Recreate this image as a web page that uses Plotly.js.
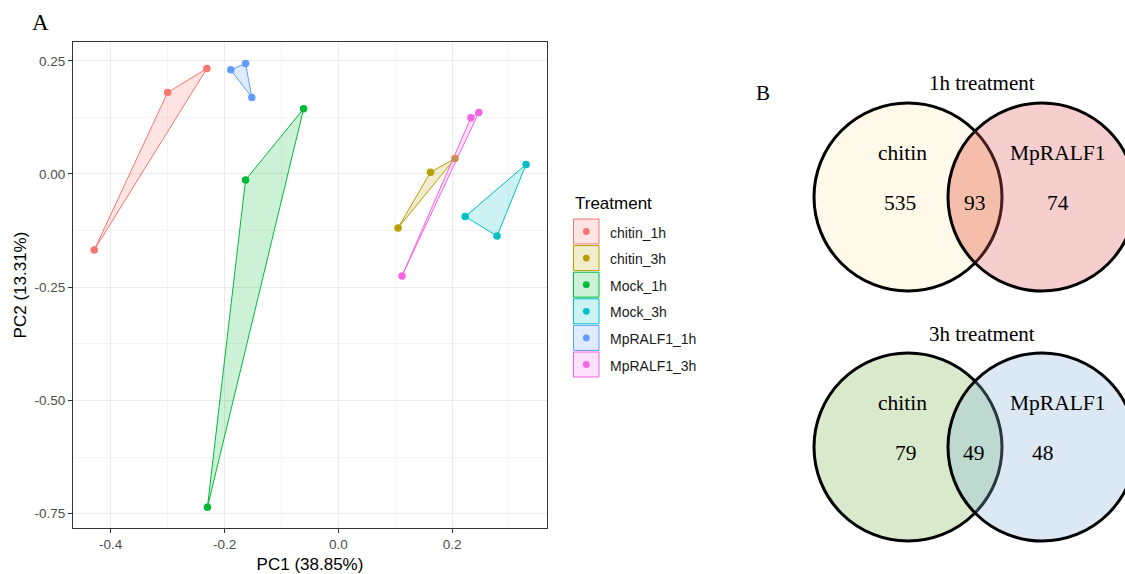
<!DOCTYPE html>
<html>
<head>
<meta charset="utf-8">
<script src="https://cdn.plot.ly/plotly-3.0.1.min.js"></script>
<style>html,body{margin:0;padding:0;background:#fff;}#chart{width:1125px;height:574px;}</style>
</head>
<body>
<div id="chart"></div>
<script>
// ---------------- DATA ----------------
const groups = ['chitin_1h', 'chitin_3h', 'Mock_1h', 'Mock_3h', 'MpRALF1_1h', 'MpRALF1_3h'];
const pc1_chitin_1h  = [-0.429, -0.300, -0.231];
const pc2_chitin_1h  = [-0.168,  0.180,  0.233];
const pc1_chitin_3h  = [ 0.105,  0.162,  0.205];
const pc2_chitin_3h  = [-0.119,  0.004,  0.034];
const pc1_Mock_1h    = [-0.230, -0.163, -0.061];
const pc2_Mock_1h    = [-0.736, -0.013,  0.144];
const pc1_Mock_3h    = [ 0.223,  0.279,  0.330];
const pc2_Mock_3h    = [-0.094, -0.137,  0.021];
const pc1_MpRALF1_1h = [-0.189, -0.163, -0.152];
const pc2_MpRALF1_1h = [ 0.230,  0.244,  0.169];
const pc1_MpRALF1_3h = [ 0.112,  0.233,  0.247];
const pc2_MpRALF1_3h = [-0.225,  0.124,  0.136];

const xTickVals = [-0.4, -0.2, 0.0, 0.2];
const xTickText = ['-0.4', '-0.2', '0.0', '0.2'];
const yTickVals = [0.25, 0.0, -0.25, -0.5, -0.75];
const yTickText = ['0.25', '0.00', '-0.25', '-0.50', '-0.75'];

// Venn counts: [chitin only, both, MpRALF1 only]
const vennTitles = ['1h treatment', '3h treatment'];
const vennSetNames = ['chitin', 'MpRALF1'];
const venn1h = [535, 93, 74];
const venn3h = [79, 49, 48];

// ---------------- STYLE / LAYOUT CONSTANTS ----------------
const W = 1125, H = 574;
const colors = ['#F8766D', '#B79F00', '#00BA38', '#00BFC4', '#619CFF', '#F564E3'];
const SANS = 'Liberation Sans, Arial, sans-serif';
const SERIF = 'Liberation Serif, Times New Roman, serif';
const panel = {left: 73, right: 547, top: 42, bottom: 528};

function rgba(hex, a) {
  const n = parseInt(hex.slice(1), 16);
  return 'rgba(' + ((n >> 16) & 255) + ',' + ((n >> 8) & 255) + ',' + (n & 255) + ',' + a + ')';
}

const pcData = {
  chitin_1h: [pc1_chitin_1h, pc2_chitin_1h],
  chitin_3h: [pc1_chitin_3h, pc2_chitin_3h],
  Mock_1h: [pc1_Mock_1h, pc2_Mock_1h],
  Mock_3h: [pc1_Mock_3h, pc2_Mock_3h],
  MpRALF1_1h: [pc1_MpRALF1_1h, pc2_MpRALF1_1h],
  MpRALF1_3h: [pc1_MpRALF1_3h, pc2_MpRALF1_3h]
};

// convex hull (monotone chain)
function hull(xs, ys) {
  const pts = xs.map((x, i) => [x, ys[i]]).sort((a, b) => a[0] - b[0] || a[1] - b[1]);
  const cross = (o, a, b) => (a[0] - o[0]) * (b[1] - o[1]) - (a[1] - o[1]) * (b[0] - o[0]);
  const lower = [], upper = [];
  for (const p of pts) { while (lower.length >= 2 && cross(lower[lower.length - 2], lower[lower.length - 1], p) <= 0) lower.pop(); lower.push(p); }
  for (let i = pts.length - 1; i >= 0; i--) { const p = pts[i]; while (upper.length >= 2 && cross(upper[upper.length - 2], upper[upper.length - 1], p) <= 0) upper.pop(); upper.push(p); }
  const h = lower.slice(0, -1).concat(upper.slice(0, -1));
  h.push(h[0]);
  return h;
}

const traces = [];
groups.forEach((g, i) => {
  traces.push({
    type: 'scatter', mode: 'markers', name: g,
    x: pcData[g][0], y: pcData[g][1], xaxis: 'x', yaxis: 'y',
    marker: {color: colors[i], size: 7.5}, showlegend: false, hoverinfo: 'x+y+name'
  });
});
groups.forEach((g, i) => {
  const h = hull(pcData[g][0], pcData[g][1]);
  traces.push({
    type: 'scatter', mode: 'lines', name: g,
    x: h.map(p => p[0]), y: h.map(p => p[1]), xaxis: 'x', yaxis: 'y',
    fill: 'toself', fillcolor: rgba(colors[i], 0.2),
    line: {color: colors[i], width: 1}, showlegend: false, hoverinfo: 'skip'
  });
});
// invisible trace to instantiate overlay pixel axes
traces.push({type: 'scatter', mode: 'markers', x: [0], y: [0], xaxis: 'x2', yaxis: 'y2',
  marker: {opacity: 0}, showlegend: false, hoverinfo: 'skip'});

const shapes = [];
const annotations = [];
function txt(text, x, y, size, family, opts) {
  annotations.push(Object.assign({text: text, x: x, y: y, xref: 'x2', yref: 'y2', showarrow: false,
    font: {size: size, family: family, color: '#000'}, xanchor: 'center', yanchor: 'middle'}, opts || {}));
}

// ---- legend ----
txt('Treatment', 573, 203.5, 17, SANS, {xanchor: 'left'});
groups.forEach((g, i) => {
  const top = 219 + i * 26.6;
  shapes.push({type: 'rect', xref: 'x2', yref: 'y2', x0: 573.5, x1: 599, y0: top, y1: top + 25,
    fillcolor: rgba(colors[i], 0.2), line: {color: colors[i], width: 1}, layer: 'below'});
  shapes.push({type: 'circle', xref: 'x2', yref: 'y2', x0: 586.3 - 3.4, x1: 586.3 + 3.4,
    y0: top + 12.5 - 3.4, y1: top + 12.5 + 3.4, fillcolor: colors[i], line: {width: 0}, layer: 'below'});
  txt(g, 608, top + 13.5, 14, SANS, {xanchor: 'left', font: {size: 14, family: SANS, color: '#1a1a1a'}});
});

// ---- panel letters ----
txt('A', 40, 22, 23, SERIF);
txt('B', 763, 93, 21, SERIF);

// ---- Venn diagrams ----
const vennLayout = [
  {cy: 197, titleY: 83, fillL: 'rgb(255,249,233)', lens: 'rgb(254,232,204)', fillR: 'rgba(225,92,92,0.3)', counts: venn1h, countX: [900, 975, 1058]},
  {cy: 447, titleY: 334, fillL: 'rgb(217,233,203)', lens: 'rgb(210,234,202)', fillR: 'rgba(142,178,222,0.3)', counts: venn3h, countX: [906, 974, 1043]}
];
const cxL = 908, cxR = 1042, R = 94;
vennLayout.forEach((v, k) => {
  const cy = v.cy;
  shapes.push({type: 'circle', xref: 'x2', yref: 'y2', x0: cxL - R, x1: cxL + R, y0: cy - R, y1: cy + R,
    fillcolor: v.fillL, line: {width: 0}, layer: 'below'});
  // lens
  const a = (cxR - cxL) / 2, th = Math.acos(a / R), N = 60;
  let p = '';
  for (let j = 0; j <= N; j++) {
    const t = -th + 2 * th * j / N;
    p += (j === 0 ? 'M' : 'L') + (cxL + R * Math.cos(t)).toFixed(2) + ',' + (cy + R * Math.sin(t)).toFixed(2);
  }
  for (let j = 0; j <= N; j++) {
    const t = th - 2 * th * j / N;
    p += 'L' + (cxR - R * Math.cos(t)).toFixed(2) + ',' + (cy + R * Math.sin(t)).toFixed(2);
  }
  p += 'Z';
  shapes.push({type: 'path', xref: 'x2', yref: 'y2', path: p, fillcolor: v.lens, line: {width: 0}, layer: 'below'});
  shapes.push({type: 'circle', xref: 'x2', yref: 'y2', x0: cxL - R, x1: cxL + R, y0: cy - R, y1: cy + R,
    fillcolor: 'rgba(0,0,0,0)', line: {color: '#000', width: 3}, layer: 'below'});
  shapes.push({type: 'circle', xref: 'x2', yref: 'y2', x0: cxR - R, x1: cxR + R, y0: cy - R, y1: cy + R,
    fillcolor: v.fillR, line: {color: '#000', width: 3}, layer: 'below'});
  txt(vennTitles[k], 982, v.titleY, 21, SERIF);
  txt(vennSetNames[0], 902, cy - 44, 21.5, SERIF);
  txt(vennSetNames[1], 1058, cy - 44, 21.5, SERIF);
  v.counts.forEach((c, j) => txt(String(c), v.countX[j], cy + 6, 21.5, SERIF));
});

const gridMajor = '#EBEBEB', gridMinor = '#F4F4F4';
const layout = {
  width: W, height: H,
  margin: {l: 0, r: 0, t: 0, b: 0, pad: 0},
  paper_bgcolor: '#fff', plot_bgcolor: 'rgba(0,0,0,0)',
  showlegend: false,
  xaxis: {
    domain: [panel.left / W, panel.right / W], range: [-0.4663, 0.3668],
    tickmode: 'array', tickvals: xTickVals, ticktext: xTickText,
    ticks: 'outside', ticklen: 4, tickcolor: '#333', tickwidth: 1,
    tickfont: {size: 13.5, family: SANS, color: '#4D4D4D'},
    showgrid: true, gridcolor: gridMajor, gridwidth: 1,
    minor: {tickvals: [-0.3, -0.1, 0.1, 0.3], showgrid: true, gridcolor: gridMinor, gridwidth: 1, ticks: ''},
    zeroline: false, showline: true, mirror: true, linecolor: '#333', linewidth: 1,
    title: {text: 'PC1 (38.85%)', font: {size: 17, family: SANS, color: '#000'}, standoff: 6},
    automargin: false
  },
  yaxis: {
    domain: [(H - panel.bottom) / H, (H - panel.top) / H], range: [-0.7818, 0.2915],
    tickmode: 'array', tickvals: yTickVals, ticktext: yTickText,
    ticks: 'outside', ticklen: 4, tickcolor: '#333', tickwidth: 1,
    tickfont: {size: 13.5, family: SANS, color: '#4D4D4D'},
    showgrid: true, gridcolor: gridMajor, gridwidth: 1,
    minor: {tickvals: [0.125, -0.125, -0.375, -0.625], showgrid: true, gridcolor: gridMinor, gridwidth: 1, ticks: ''},
    zeroline: false, showline: true, mirror: true, linecolor: '#333', linewidth: 1,
    title: {text: 'PC2 (13.31%)', font: {size: 17, family: SANS, color: '#000'}, standoff: 3},
    automargin: false
  },
  xaxis2: {domain: [0, 1], range: [0, W], visible: false, anchor: 'y2', fixedrange: true},
  yaxis2: {domain: [0, 1], range: [H, 0], visible: false, anchor: 'x2', fixedrange: true},
  shapes: shapes,
  annotations: annotations
};

Plotly.newPlot('chart', traces, layout, {displayModeBar: false, staticPlot: true});
</script>
</body>
</html>
